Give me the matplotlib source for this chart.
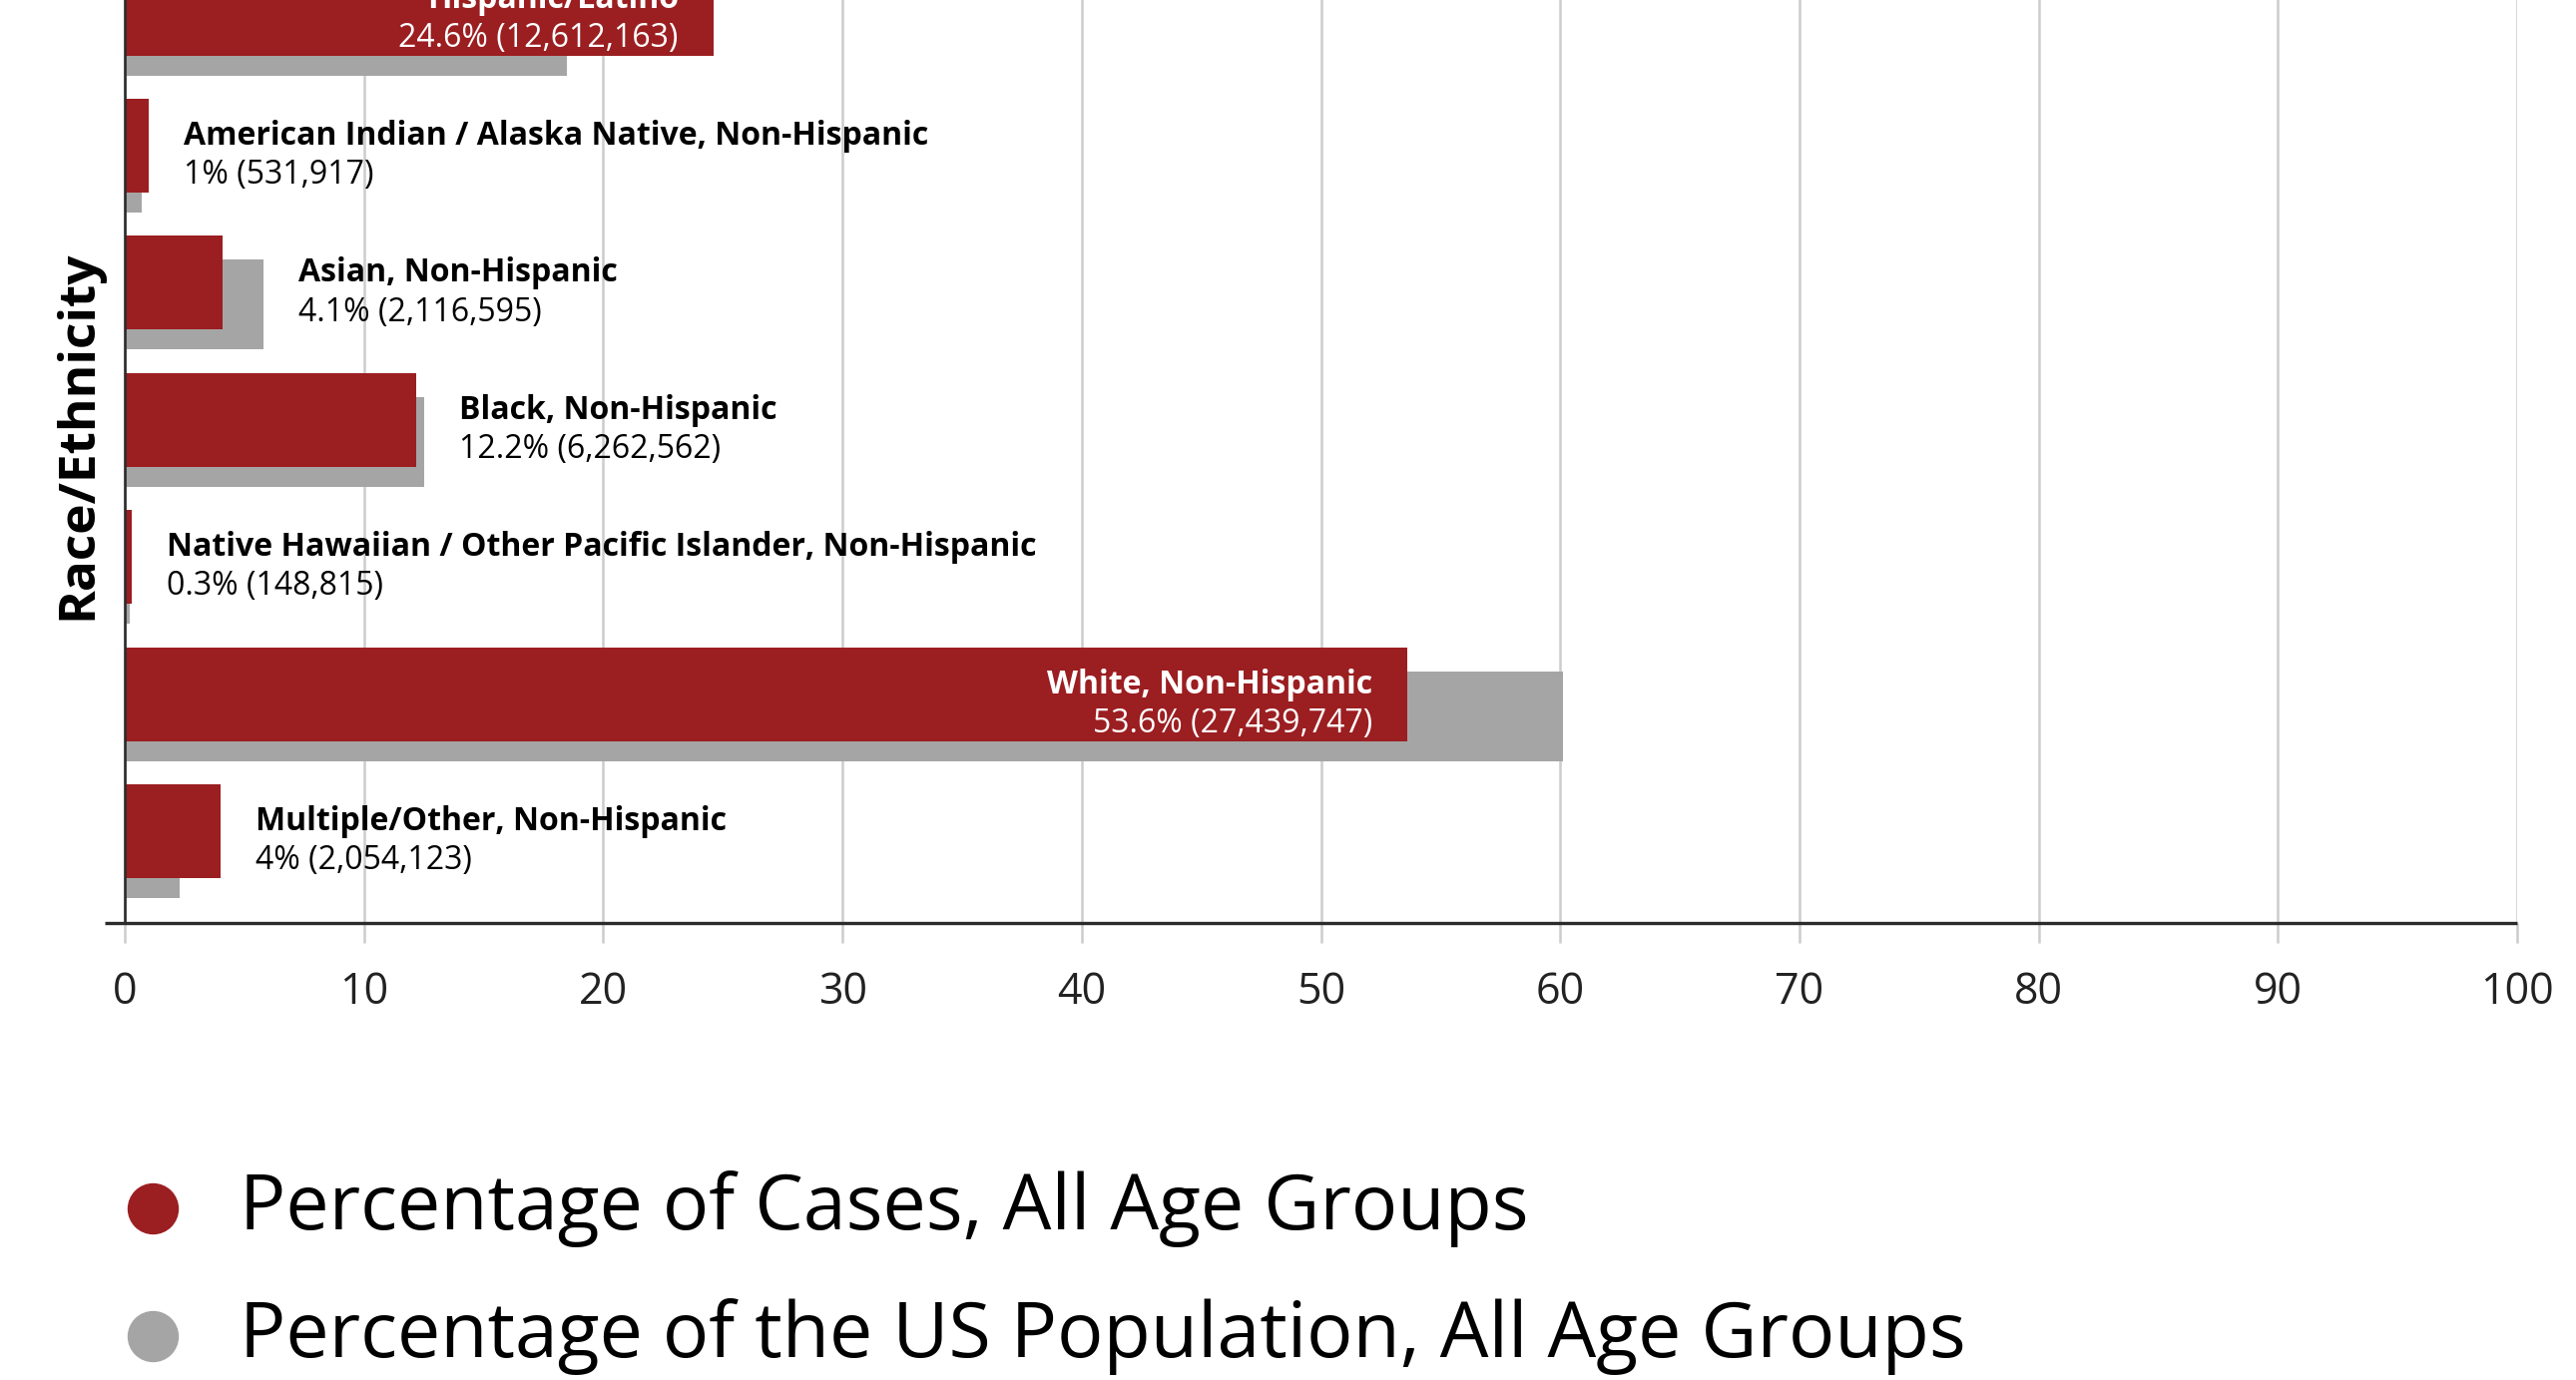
import matplotlib
matplotlib.use('Agg')
import matplotlib.pyplot as plt
from matplotlib.lines import Line2D
import numpy as np

# values (top to bottom)
groups = ['Hispanic/Latino',
          'American Indian / Alaska Native, Non-Hispanic',
          'Asian, Non-Hispanic',
          'Black, Non-Hispanic',
          'Native Hawaiian / Other Pacific Islander, Non-Hispanic',
          'White, Non-Hispanic',
          'Multiple/Other, Non-Hispanic']
case_pct = [24.6, 1.0, 4.1, 12.2, 0.3, 53.6, 4.0]
case_count = [12612163, 531917, 2116595, 6262562, 148815, 27439747, 2054123]
pop_pct = [18.5, 0.7, 5.8, 12.5, 0.2, 60.1, 2.3]

legend_labels = ['Percentage of Cases, All Age Groups',
                 'Percentage of the US Population, All Age Groups']

RED = '#9B1E21'
GRAY = '#A5A5A5'
GRID = '#CCCCCC'
DARK = '#2B2B2B'

plt.rcParams['font.family'] = ['Open Sans', 'DejaVu Sans']

fig = plt.figure(figsize=(25.81, 13.83), dpi=100)
ax = fig.add_axes([125 / 2581, 1 - 925 / 1383, 2397 / 2581, 925 / 1383])

y = np.arange(len(groups))[::-1].astype(float)

ax.barh(y - 0.16, pop_pct, height=0.655, color=GRAY, zorder=2)
ax.barh(y, case_pct, height=0.684, color=RED, zorder=3)

ymin, ymax = -0.670, 6.063
ax.set_xlim(0, 100)
ax.set_ylim(ymin, ymax)

# bar labels: inside the big bars, to the right of the small ones
for yi, name, pct, cnt, pop in zip(y, groups, case_pct, case_count, pop_pct):
    value = f'{pct:g}% ({cnt:,})'
    if pct > 20:
        x, dx, ha, col = pct, -25.2, 'right', 'white'
    else:
        x, dx, ha, col = max(pct, pop), 25.2, 'left', 'black'
    ax.annotate(name, (x, yi), xytext=(dx, 0.7), textcoords='offset points',
                ha=ha, va='baseline', fontsize=23, fontweight='bold',
                color=col, zorder=5, annotation_clip=False)
    ax.annotate(value, (x, yi), xytext=(dx, -27.5), textcoords='offset points',
                ha=ha, va='baseline', fontsize=23, color=col, zorder=5,
                annotation_clip=False)

ax.set_xticks(np.arange(0, 101, 10))
ax.set_yticks([])
ax.grid(axis='x', color=GRID, linewidth=1.8, zorder=0)
ax.tick_params(axis='x', length=14.4, width=1.8, color=GRID, pad=20,
               labelsize=31, labelcolor='#222222')
for s in ['top', 'right', 'bottom']:
    ax.spines[s].set_visible(False)
ax.spines['left'].set_color(DARK)
ax.spines['left'].set_linewidth(1.9)
ax.spines['left'].set_zorder(4)

# baseline extends a bit left of zero
ax.plot([-0.83, 100], [ymin, ymin], color=DARK, linewidth=2.4,
        clip_on=False, zorder=6, solid_capstyle='butt')

fig.text(78 / 2581, 1 - 436 / 1383, 'Race/Ethnicity', rotation=90,
         ha='center', va='center', fontsize=37, fontweight='bold')

# legend
for lab, col, cy, by in zip(legend_labels, [RED, GRAY],
                            [1211, 1339], [1232, 1360]):
    fig.add_artist(Line2D([153 / 2581], [1 - cy / 1383], marker='o',
                          markersize=36, color=col, linestyle='none',
                          transform=fig.transFigure))
    fig.text(240 / 2581, 1 - by / 1383, lab, fontsize=55.5, va='baseline',
             color='black')

fig.savefig('out.png', dpi=100)
